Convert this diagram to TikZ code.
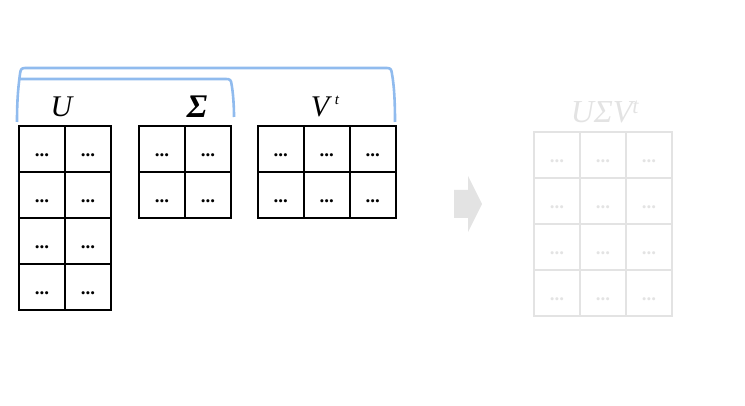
\documentclass[tikz,border=0pt]{standalone}
\usepackage{fontspec}
\setmainfont{Liberation Serif}
\definecolor{bracketblue}{HTML}{90BBEE}
\definecolor{fadegrey}{HTML}{E3E3E3}
\tikzset{node distance=46pt,auto}
\tikzset{cell/.style={draw,line width=2.4pt,minimum size=46pt,inner sep=0pt,text height=15pt,text depth=0pt,font=\fontsize{19}{19}\selectfont\bfseries}}
\tikzset{fadecell/.style={cell,draw=fadegrey,text=fadegrey}}
\tikzset{bracket/.style={draw=bracketblue,line width=2.6pt}}
\tikzset{matname/.style={inner sep=0pt,font=\fontsize{30}{30}\selectfont\itshape}}

\begin{document}
\begin{tikzpicture}[x=1pt,y=1pt]
          \useasboundingbox (0,0) rectangle (745,-406);

          \node (Ua) [cell] at (42,-149) {...};
          \node (Ub) [cell,right of=Ua] {...};
          \node (Uc) [cell,below of=Ua] {...};
          \node (Ud) [cell,right of=Uc] {...};
          \node (Ue) [cell,below of=Uc] {...};
          \node (Uf) [cell,right of=Ue] {...};
          \node (Ug) [cell,below of=Ue] {...};
          \node (Uh) [cell,right of=Ug] {...};

          \node (Sa) [cell] at (162,-149) {...};
          \node (Sb) [cell,right of=Sa] {...};
          \node (Sc) [cell,below of=Sa] {...};
          \node (Sd) [cell,right of=Sc] {...};

          \node (Va) [cell] at (280.8,-149) {...};
          \node (Vb) [cell,right of=Va] {...};
          \node (Vc) [cell,right of=Vb] {...};
          \node (Vd) [cell,below of=Va] {...};
          \node (Ve) [cell,right of=Vd] {...};
          \node (Vf) [cell,right of=Ve] {...};

          \node (Ra) [fadecell] at (557,-155) {...};
          \node (Rb) [fadecell,right of=Ra] {...};
          \node (Rc) [fadecell,right of=Rb] {...};
          \node (Rd) [fadecell,below of=Ra] {...};
          \node (Re) [fadecell,right of=Rd] {...};
          \node (Rf) [fadecell,right of=Re] {...};
          \node (Rg) [fadecell,below of=Rd] {...};
          \node (Rh) [fadecell,right of=Rg] {...};
          \node (Ri) [fadecell,right of=Rh] {...};
          \node (Rj) [fadecell,below of=Rg] {...};
          \node (Rk) [fadecell,right of=Rj] {...};
          \node (Rl) [fadecell,right of=Rk] {...};

          \node (U) [matname] at (61.5,-107) {U};
          \node (S) [matname,font=\fontsize{33}{33}\selectfont\bfseries\itshape] at (197,-107) {Σ};
          \node (V) [matname] at (320,-107) {V};
          \node (t) [matname,font=\fontsize{15}{15}\selectfont\itshape] at (337,-100) {t};
          \node (R) [matname,font=\fontsize{32}{32}\selectfont\itshape,text=fadegrey] at (605,-112) {UΣV\textsuperscript{t}};

          \coordinate (outerL) at (17,-122);
          \coordinate (outerR) at (395,-122);
          \coordinate (innerL) at (19,-79);
          \coordinate (innerR) at (234,-117);

          \draw[bracket] (outerL) .. controls (17,-95) and (19,-82) .. (20,-74) .. controls (20.5,-70) and (21,-68) .. (25,-68) -- (387,-68) .. controls (391,-68) and (391.5,-70) .. (392,-74) .. controls (394,-85) and (395,-100) .. (outerR);
          \draw[bracket] (innerL) -- (226,-79) .. controls (230,-79) and (231,-80) .. (231.5,-84) .. controls (233,-92) and (234,-105) .. (innerR);

          \fill[fadegrey] (454,-190) -- (468,-190) -- (468,-176) -- (482,-204) -- (468,-232) -- (468,-218) -- (454,-218) -- cycle;
        \end{tikzpicture}
\end{document}
